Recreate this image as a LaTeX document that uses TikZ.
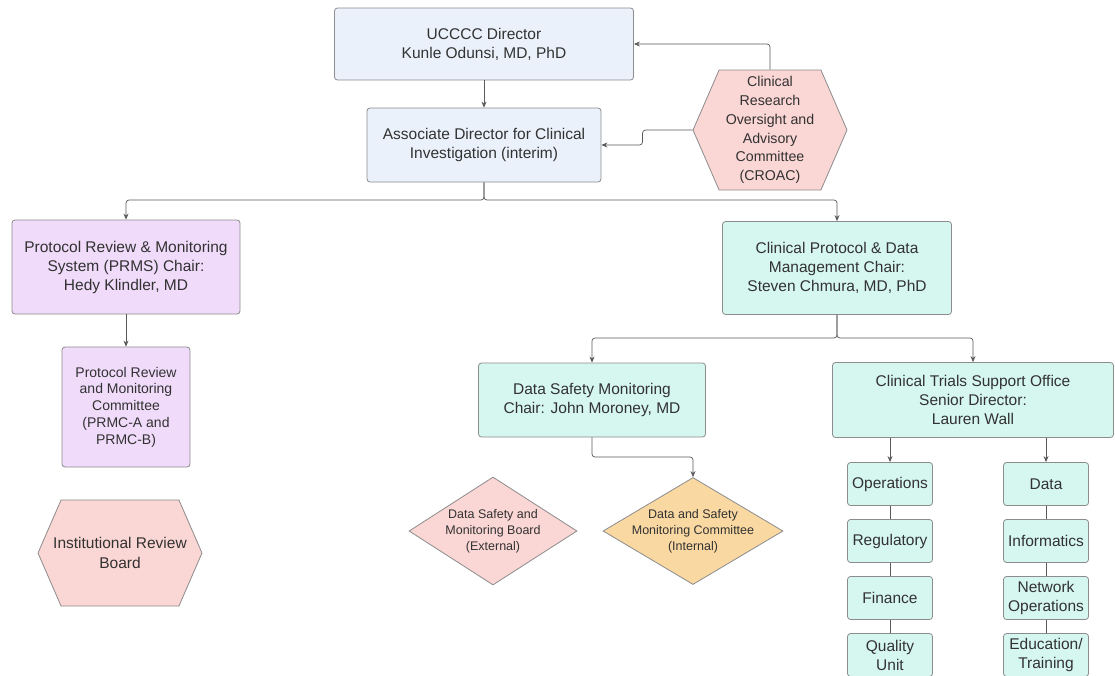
\documentclass[tikz,border=0pt]{standalone}
\usepackage{fontspec}
\setmainfont{Liberation Sans}
\usetikzlibrary{arrows.meta,shapes.geometric,shapes.symbols}

\definecolor{boxline}{RGB}{140,140,140}
\definecolor{linegray}{RGB}{90,90,90}
\definecolor{txtgray}{RGB}{50,50,50}
\definecolor{boxblue}{RGB}{234,241,251}
\definecolor{boxpurple}{RGB}{240,219,250}
\definecolor{boxpink}{RGB}{250,214,212}
\definecolor{boxcyan}{RGB}{214,246,240}
\definecolor{boxorange}{RGB}{249,216,162}

\begin{document}
\begin{tikzpicture}[x=1pt,y=-1pt,
    box/.style={draw=boxline,rounded corners=3pt,line width=0.8pt,align=center,
      text=txtgray,inner sep=0pt,font=\fontsize{15.5}{19}\selectfont},
    smallbox/.style={box,fill=boxcyan,minimum width=85pt,minimum height=43pt},
    hexa/.style={draw=boxline,line width=0.8pt,fill=boxpink,shape=signal,
      signal to=west and east,signal pointer angle=133,inner sep=0pt},
    dmd/.style={draw=boxline,line width=0.8pt,shape=diamond,inner sep=0pt},
    txt/.style={align=center,text=txtgray,inner sep=0pt},
    link/.style={draw=linegray,line width=0.7pt,rounded corners=3pt,
      -{Stealth[length=6pt,width=5pt]}},
    chain/.style={draw=linegray,line width=0.7pt}]
  \useasboundingbox (0,0) rectangle (1115,675);
  \fill[white] (0,0) rectangle (1115,675);
  \clip (0,0) rectangle (1115,675);

  % top of the chart
  \node[box,fill=boxblue,minimum width=299pt,minimum height=72pt] (dir) at (484,44)
    {UCCCC Director\\Kunle Odunsi, MD, PhD};
  \node[box,fill=boxblue,minimum width=234pt,minimum height=74pt] (assoc) at (484,145)
    {Associate Director for Clinical\\Investigation (interim)};
  \node[hexa,minimum width=154pt,minimum height=120pt] (croac) at (770,130) {};
  \node[txt,font=\fontsize{14.2}{18.7}\selectfont] (croac-t) at (croac.center)
    {Clinical\\Research\\Oversight and\\Advisory\\Committee\\(CROAC)};

  % left branch
  \node[box,fill=boxpurple,minimum width=228pt,minimum height=94pt] (prms) at (126,267)
    {Protocol Review \& Monitoring\\System (PRMS) Chair:\\Hedy Klindler, MD};
  \node[box,fill=boxpurple,minimum width=128pt,minimum height=120pt,
    font=\fontsize{14}{16.7}\selectfont] (prmc) at (126,407)
    {Protocol Review\\and Monitoring\\Committee\\(PRMC-A and\\PRMC-B)};
  \node[hexa,minimum width=164pt,minimum height=106pt] (irb) at (120,553) {};
  \node[txt,font=\fontsize{15.5}{20}\selectfont] (irb-t) at (irb.center)
    {Institutional Review\\Board};

  % right branch
  \node[box,fill=boxcyan,minimum width=229pt,minimum height=93pt] (cpdm) at (837,268)
    {Clinical Protocol \& Data\\Management Chair:\\Steven Chmura, MD, PhD};
  \node[box,fill=boxcyan,minimum width=227pt,minimum height=74pt] (dsm) at (592,400)
    {Data Safety Monitoring\\Chair: John Moroney, MD};
  \node[box,fill=boxcyan,minimum width=281pt,minimum height=75pt] (ctso) at (973,400)
    {Clinical Trials Support Office\\Senior Director:\\Lauren Wall};

  \node[dmd,fill=boxpink,minimum width=168pt,minimum height=108pt] (dsmb) at (493,531) {};
  \node[txt,font=\fontsize{12.5}{16}\selectfont] (dsmb-t) at (dsmb.center)
    {Data Safety and\\Monitoring Board\\(External)};
  \node[dmd,fill=boxorange,minimum width=180pt,minimum height=107pt] (dsmc) at (693,531) {};
  \node[txt,font=\fontsize{12.5}{16}\selectfont] (dsmc-t) at (dsmc.center)
    {Data and Safety\\Monitoring Committee\\(Internal)};

  \foreach \name/\y/\label in {ops/484/Operations, reg/541/Regulatory,
      fin/598/Finance, qual/655/{Quality\\Unit}}
    \node[smallbox] (\name) at (890,\y) {\label};
  \foreach \name/\y/\label in {data/484/Data, info/541/Informatics,
      net/598/{Network\\Operations}, edu/655/{Education/\\Training}}
    \node[smallbox] (\name) at (1046,\y) {\label};

  % connectors
  \coordinate (bus1) at (0,200);
  \coordinate (bus2) at (0,338);
  \coordinate (bus3) at (0,457);

  \draw[link] (dir) -- (assoc);
  \draw[link] (croac.north) |- (dir.east);
  \draw[link] (croac.west) -- ++(-50,0) |- (assoc.east);
  \draw[link] (assoc.south) -- (assoc.south |- bus1) -| (prms.north);
  \draw[link] (assoc.south) -- (assoc.south |- bus1) -| (cpdm.north);
  \draw[link] (prms) -- (prmc);
  \draw[link] (cpdm.south) -- (cpdm.south |- bus2) -| (dsm.north);
  \draw[link] (cpdm.south) -- (cpdm.south |- bus2) -| (ctso.north);
  \draw[link] (dsm.south) -- (dsm.south |- bus3) -| (dsmc.north);
  \draw[link] (ctso.south -| ops.north) -- (ops.north);
  \draw[link] (ctso.south -| data.north) -- (data.north);

  \foreach \from/\to in {ops/reg, reg/fin, fin/qual, data/info, info/net, net/edu}
    \draw[chain] (\from) -- (\to);
\end{tikzpicture}
\end{document}
